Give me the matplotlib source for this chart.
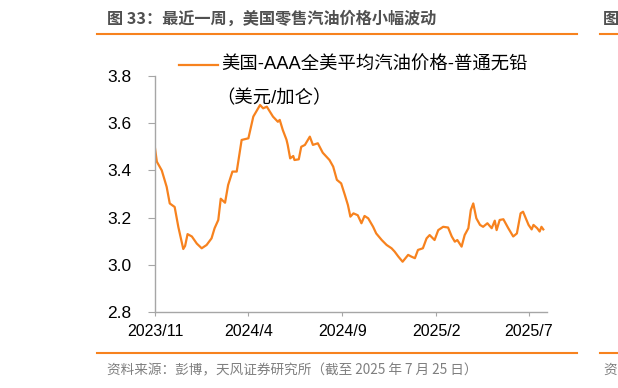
import matplotlib.pyplot as plt
import pandas as pd

plt.rcParams['font.family'] = ['Liberation Sans', 'Noto Sans CJK SC', 'DejaVu Sans']

# --- data
dates = [
    "2023-11-01", "2023-11-04", "2023-11-12", "2023-11-20", "2023-11-25", "2023-12-03",
    "2023-12-09", "2023-12-17", "2023-12-20", "2023-12-24", "2023-12-31", "2024-01-08",
    "2024-01-16", "2024-01-24", "2024-02-01", "2024-02-06", "2024-02-12", "2024-02-16",
    "2024-02-23", "2024-02-28", "2024-03-06", "2024-03-13", "2024-03-21", "2024-04-01",
    "2024-04-09", "2024-04-20", "2024-04-25", "2024-05-01", "2024-05-11", "2024-05-19",
    "2024-05-22", "2024-05-27", "2024-06-02", "2024-06-04", "2024-06-08", "2024-06-13",
    "2024-06-15", "2024-06-22", "2024-06-26", "2024-07-02", "2024-07-10", "2024-07-15",
    "2024-07-23", "2024-07-31", "2024-08-11", "2024-08-17", "2024-08-23", "2024-08-30",
    "2024-09-05", "2024-09-10", "2024-09-14", "2024-09-19", "2024-09-26", "2024-10-02",
    "2024-10-07", "2024-10-13", "2024-10-21", "2024-10-26", "2024-11-04", "2024-11-12",
    "2024-11-20", "2024-11-25", "2024-12-01", "2024-12-08", "2024-12-17", "2024-12-22",
    "2024-12-28", "2025-01-02", "2025-01-10", "2025-01-16", "2025-01-21", "2025-01-29",
    "2025-02-04", "2025-02-12", "2025-02-20", "2025-02-26", "2025-03-03", "2025-03-07",
    "2025-03-14", "2025-03-19", "2025-03-25", "2025-03-29", "2025-04-02", "2025-04-07",
    "2025-04-13", "2025-04-18", "2025-04-25", "2025-05-02", "2025-05-07", "2025-05-10",
    "2025-05-15", "2025-05-21", "2025-05-29", "2025-06-06", "2025-06-12", "2025-06-18",
    "2025-06-22", "2025-07-01", "2025-07-06", "2025-07-09", "2025-07-15", "2025-07-19",
    "2025-07-22", "2025-07-25",
]
price = [
    3.494, 3.437, 3.400, 3.330, 3.260, 3.245,
    3.160, 3.067, 3.080, 3.130, 3.120, 3.090,
    3.070, 3.084, 3.112, 3.155, 3.190, 3.280,
    3.263, 3.338, 3.395, 3.395, 3.529, 3.536,
    3.628, 3.677, 3.663, 3.670, 3.628, 3.606,
    3.614, 3.571, 3.530, 3.508, 3.451, 3.461,
    3.444, 3.447, 3.500, 3.508, 3.543, 3.508,
    3.515, 3.475, 3.444, 3.416, 3.360, 3.345,
    3.296, 3.253, 3.204, 3.218, 3.210, 3.176,
    3.207, 3.197, 3.161, 3.133, 3.105, 3.084,
    3.070, 3.056, 3.035, 3.013, 3.042, 3.035,
    3.028, 3.063, 3.070, 3.112, 3.126, 3.105,
    3.147, 3.161, 3.158, 3.120, 3.098, 3.105,
    3.077, 3.126, 3.155, 3.232, 3.260, 3.197,
    3.169, 3.161, 3.176, 3.155, 3.187, 3.147,
    3.190, 3.193, 3.155, 3.120, 3.133, 3.218,
    3.225, 3.169, 3.150, 3.169, 3.155, 3.141,
    3.161, 3.150,
]
tick_dates = ["2023-11-01", "2024-04-01", "2024-09-01", "2025-02-01", "2025-07-01"]
tick_labels = ["2023/11", "2024/4", "2024/9", "2025/2", "2025/7"]
y_ticks = [2.8, 3.0, 3.2, 3.4, 3.6, 3.8]

series_label = "美国-AAA全美平均汽油价格-普通无铅"
unit_label = "（美元/加仑）"
title = "图 33：最近一周，美国零售汽油价格小幅波动"
source = "资料来源：彭博，天风证券研究所（截至 2025 年 7 月 25 日）"

orange = "#F7821E"
grey = "#A6A6A6"
cjk = ["Noto Sans CJK SC", "DejaVu Sans"]

fig = plt.figure(figsize=(6.18, 3.88), dpi=100)
ax = fig.add_axes([155 / 618, 1 - 312 / 388, 392 / 618, 236 / 388])

ax.plot(pd.to_datetime(dates), price, color=orange, lw=1.6)

ax.set_ylim(2.8, 3.8)
ax.set_yticks(y_ticks)
ax.set_yticklabels([f"{v:.1f}" for v in y_ticks])
ax.set_xlim(pd.Timestamp("2023-11-01"), pd.Timestamp("2025-07-31"))
ax.set_xticks(pd.to_datetime(tick_dates))
ax.set_xticklabels(tick_labels)

for s in ["top", "right"]:
    ax.spines[s].set_visible(False)
for s in ["left", "bottom"]:
    ax.spines[s].set_color(grey)
    ax.spines[s].set_linewidth(1.0)
ax.tick_params(axis="y", direction="out", length=5, color=grey, labelsize=12.5, pad=12)
ax.tick_params(axis="x", direction="out", length=3, color=grey, labelsize=11.5, pad=6)

# legend drawn by hand: handle sits on the first text line
fig.add_artist(plt.Line2D([179 / 618, 218 / 618], [1 - 65 / 388] * 2, color=orange, lw=1.6))
fig.text(221 / 618, 1 - 65 / 388, series_label, fontsize=13.2, va="center")
fig.text(216 / 618, 1 - 99 / 388, unit_label, fontsize=13.2, va="center")

# header / footer decoration
fig.text(107 / 618, 1 - 19 / 388, title, fontsize=11.65, color="#505050", fontweight="bold",
         va="center", family=cjk)
fig.text(107 / 618, 1 - 370 / 388, source, fontsize=9.8, color="#7F7F7F", va="center", family=cjk)
fig.text(603 / 618, 1 - 19 / 388, "图", fontsize=11.65, color="#505050", fontweight="bold",
         va="center", family=cjk)
fig.text(603 / 618, 1 - 370 / 388, "资", fontsize=9.8, color="#7F7F7F", va="center", family=cjk)
for y in [34, 353]:
    fig.add_artist(plt.Line2D([97 / 618, 577 / 618], [1 - y / 388] * 2, color=orange, lw=1.5))
    fig.add_artist(plt.Line2D([600 / 618, 1.0], [1 - y / 388] * 2, color=orange, lw=1.5))

fig.savefig("out.png", dpi=100)
